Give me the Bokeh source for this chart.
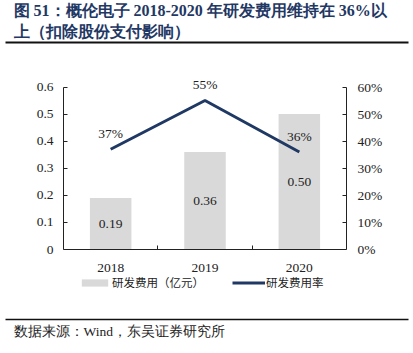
from bokeh.plotting import figure
from bokeh.models import (Range1d, LinearAxis, FixedTicker, PrintfTickFormatter,
                          Legend, LegendItem, ColumnDataSource)
from bokeh.core.properties import value
from bokeh.embed import file_html
from bokeh.resources import INLINE

# ---- data ----
years = ["2018", "2019", "2020"]
rd_expense = [0.19, 0.36, 0.50]          # 亿元
rd_ratio = [37, 55, 36]                  # %
left_ticks = [0, 0.1, 0.2, 0.3, 0.4, 0.5, 0.6]
right_ticks = [0, 10, 20, 30, 40, 50, 60]
title_lines = ["图 51：概伦电子 2018-2020 年研发费用维持在 36%以",
               "上（扣除股份支付影响）"]
source_text = "数据来源：Wind，东吴证券研究所"

SERIF = "Liberation Serif"
CJK = "Noto Sans CJK SC"
NAVY = "#1f3864"
GRAY = "#d9d9d9"
TXT = "#222222"
W, H = 413, 353
FL, FR = 63, 346          # frame left/right (page px)
FT, FB = 0, 313           # frame top/bottom (page px)
AX0, AX_TOP = 249, 86.5   # page y of value 0 and of the axis top

k1 = (AX0 - AX_TOP) / left_ticks[-1]     # px per unit (left)
k2 = (AX0 - AX_TOP) / right_ticks[-1]    # px per unit (right)

xpos = [i + 0.5 for i in range(len(years))]
src = ColumnDataSource(dict(
    x=xpos, v=rd_expense, vmid=[v / 2 for v in rd_expense],
    vlab=["%.2f" % v for v in rd_expense],
    r=rd_ratio, rlab=["%d%%" % r for r in rd_ratio],
))

p = figure(width=W, height=H, output_backend="svg", toolbar_location=None,
           x_range=Range1d(0, len(years)),
           y_range=Range1d(-(FB - AX0) / k1, (AX0 - FT) / k1),
           min_border_left=FL, min_border_right=W - FR, min_border_top=FT,
           min_border_bottom=H - FB, x_axis_type=None, y_axis_type=None)
p.outline_line_color = None
p.grid.visible = False
p.extra_y_ranges = {"pct": Range1d(-(FB - AX0) / k2, (AX0 - FT) / k2),
                    "py": Range1d(FB, FT)}
p.extra_x_ranges = {"px": Range1d(FL, FR)}

bars = p.vbar(x="x", top="v", width=0.44, source=src, fill_color=GRAY, line_color=None)
p.text(x="x", y="vmid", text="vlab", source=src, text_align="center",
       text_baseline="middle", text_font=value(SERIF), text_font_size="13.5px",
       text_color=TXT)

line = p.line(x="x", y="r", source=src, y_range_name="pct", line_color=NAVY,
              line_width=3)
p.text(x="x", y="r", text="rlab", source=src, y_range_name="pct",
       text_align="center", text_baseline="middle", y_offset=-16,
       text_font=value(SERIF), text_font_size="13.5px", text_color=TXT)


def style_axis(ax):
    ax.axis_line_color = TXT
    ax.major_tick_line_color = TXT
    ax.major_label_text_font = SERIF
    ax.major_label_text_font_size = "13.5px"
    ax.major_label_text_color = TXT
    ax.minor_tick_line_color = None


ly = LinearAxis(ticker=FixedTicker(ticks=left_ticks), bounds=(0, left_ticks[-1]),
                formatter=PrintfTickFormatter(format="%.1f"))
ly.major_label_overrides = {0: "0"}
style_axis(ly)
ly.major_tick_in = 4
ly.major_tick_out = 0
ly.major_label_standoff = 10
p.add_layout(ly, "left")

ry = LinearAxis(y_range_name="pct", ticker=FixedTicker(ticks=right_ticks),
                bounds=(0, right_ticks[-1]), formatter=PrintfTickFormatter(format="%d%%"))
style_axis(ry)
ry.major_tick_in = 4
ry.major_tick_out = 0
ry.major_label_standoff = 11
p.add_layout(ry, "right")

bx = LinearAxis(ticker=FixedTicker(ticks=xpos, minor_ticks=[1, 2]), fixed_location=0)
bx.major_label_overrides = {x: y for x, y in zip(xpos, years)}
style_axis(bx)
bx.major_tick_line_color = None
bx.minor_tick_line_color = TXT
bx.minor_tick_in = 4
bx.minor_tick_out = 0
bx.major_label_standoff = 8
p.add_layout(bx, "below")

legend = Legend(items=[LegendItem(label=value("研发费用（亿元）"), renderers=[bars]),
                       LegendItem(label=value("研发费用率"), renderers=[line])],
                orientation="horizontal", location=(15, FB - 290),
                glyph_width=33, glyph_height=9, label_height=12,
                label_standoff=1, spacing=28, padding=0, margin=0,
                border_line_color=None, background_fill_alpha=0,
                label_text_font=CJK, label_text_font_size="11.5px",
                label_text_color=TXT)
p.add_layout(legend, "center")

# ---- header / footer texts and rules (page-pixel coordinates via px/py ranges) ----
p.text(x=[13, 13], y=[10, 31], text=title_lines, x_range_name="px", y_range_name="py",
       text_baseline="middle", text_font=value(SERIF), text_font_size="16px",
       text_font_style="bold", text_color=NAVY, level="overlay")
p.segment(x0=[5], y0=[42], x1=[408], y1=[42], x_range_name="px", y_range_name="py",
          line_color="#111111", line_width=2, level="overlay")
p.segment(x0=[5], y0=[319], x1=[408], y1=[319], x_range_name="px", y_range_name="py",
          line_color="#111111", line_width=1.5, level="overlay")
p.text(x=[13], y=[331], text=[source_text], x_range_name="px", y_range_name="py",
       text_baseline="middle", text_font=value(SERIF), text_font_size="13.5px",
       text_color=TXT, level="overlay")

open("out.html", "w").write(file_html(p, INLINE))
